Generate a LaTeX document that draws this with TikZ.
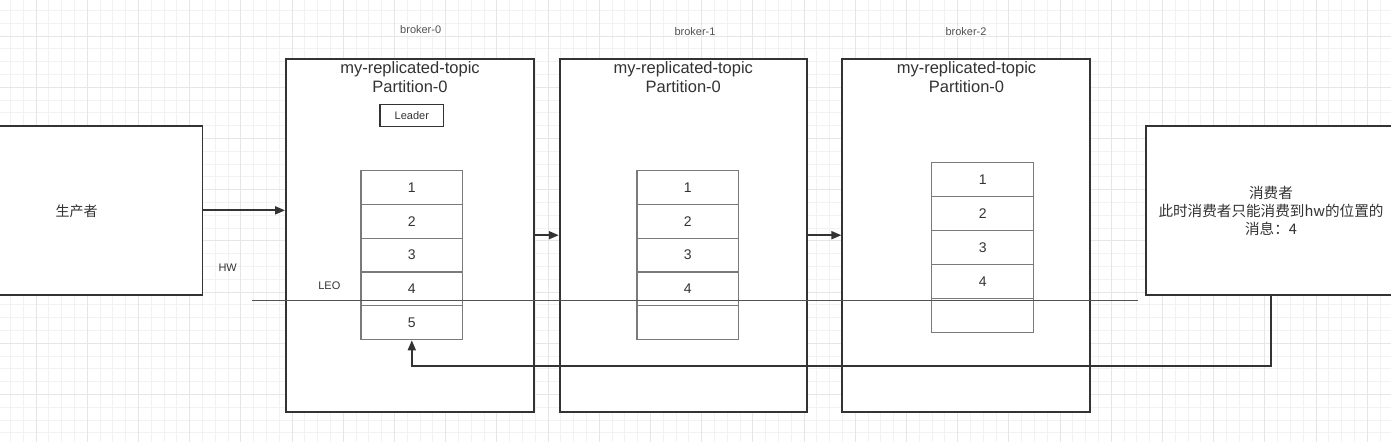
\documentclass[tikz,border=0pt]{standalone}
\usepackage{fontspec}
\setmainfont{Liberation Sans}
\newfontfamily\cjk{Noto Sans CJK SC}
\usetikzlibrary{arrows.meta}
\definecolor{ink}{HTML}{333333}
\definecolor{txt}{HTML}{333333}
\definecolor{cellline}{HTML}{7A7A7A}
\definecolor{gminor}{HTML}{F2F2F2}
\definecolor{gmajor}{HTML}{E6E6E6}
\tikzset{
  gridminor/.style={draw=gminor, line width=0.8pt},
  gridmajor/.style={draw=gmajor, line width=0.9pt},
  bigbox/.style={draw=ink, line width=1.9pt, fill=white, rectangle, inner sep=0pt},
  cell/.style={draw=cellline, line width=1.1pt, fill=white, rectangle, inner sep=0pt,
    minimum width=101.7pt, minimum height=33.9pt, text=txt, font=\fontsize{14}{16}\selectfont},
  leaderbox/.style={draw=ink, line width=1.6pt, rectangle, inner sep=0pt,
    minimum width=63.7pt, minimum height=22pt, text=txt, font=\fontsize{11}{13}\selectfont},
  titletext/.style={text=txt, align=center, inner sep=0pt, font=\fontsize{16.5}{19}\selectfont},
  smalltext/.style={text=txt, inner sep=0pt, font=\fontsize{11}{13}\selectfont},
  brokertext/.style={text=txt!85, inner sep=0pt, font=\fontsize{11}{13}\selectfont},
  conn/.style={draw=ink, line width=1.8pt, -{Triangle[length=10pt,width=8pt]}},
  hwline/.style={draw=ink!85, line width=1.3pt}
}
\begin{document}
\begin{tikzpicture}[x=1pt,y=-1pt]
\useasboundingbox (0,0) rectangle (1391,442);
\fill[white] (0,0) rectangle (1391,442);
% background grid
\foreach \i in {0,...,110} {
  \draw[gridminor] ({-15.2+12.8*\i},0) -- ++(0,442);
}
\foreach \j in {0,...,36} {
  \draw[gridminor] (0,{-15.2+12.8*\j}) -- ++(1391,0);
}
\foreach \i in {0,...,28} {
  \draw[gridmajor] ({-15.2+51.2*\i},0) -- ++(0,442);
}
\foreach \j in {0,...,9} {
  \draw[gridmajor] (0,{-15.2+51.2*\j}) -- ++(1391,0);
}

% producer and consumer
\node[bigbox, minimum width=204.5pt, minimum height=169.3pt] (prod) at (100.25,210.35) {};
\node[text=txt, font=\cjk\fontsize{14}{16}\selectfont] (prodt) at (76.7,211) {生产者};
\node[bigbox, minimum width=250pt, minimum height=169.3pt] (cons) at (1271,210.35) {};
\node[text=txt, align=center, inner sep=0pt, font=\cjk\fontsize{14.6}{18}\selectfont] (const) at (1271,211.3) {消费者\\此时消费者只能消费到hw的位置的\\消息：4};

% brokers
\node[bigbox, minimum width=248pt, minimum height=353pt] (b0) at (410,235.2) {};
\node[bigbox, minimum width=247.6pt, minimum height=353pt] (b1) at (683.5,235.2) {};
\node[bigbox, minimum width=247.7pt, minimum height=353pt] (b2) at (966.2,235.2) {};

\node[brokertext] (l0) at (420.7,29.5) {broker-0};
\node[brokertext] (l1) at (695,31.5) {broker-1};
\node[brokertext] (l2) at (966,31.5) {broker-2};

\node[titletext] (t0) at (410,77.5) {my-replicated-topic\\Partition-0};
\node[titletext] (t1) at (683.3,77.5) {my-replicated-topic\\Partition-0};
\node[titletext] (t2) at (966.5,77.5) {my-replicated-topic\\Partition-0};

\node[leaderbox] (lead) at (411.8,115.3) {Leader};

% log stacks
\foreach \k/\t in {1/1,2/2,3/3,4/4,5/5}
  \node[cell] (a\k) at (411.8,{170.3+33.9*(\k-0.5)}) {\t};
\foreach \k/\t in {1/1,2/2,3/3,4/4,5/}
  \node[cell] (m\k) at (687.8,{170.3+33.9*(\k-0.5)}) {\t};
\foreach \k/\t in {1/1,2/2,3/3,4/4,5/}
  \node[cell, minimum width=102pt] (n\k) at (982.7,{162.7+33.9*(\k-0.5)}) {\t};

% HW line and labels
\coordinate (hwL) at (251.7,300.5);
\coordinate (hwR) at (1137.7,300.5);
\draw[hwline] (hwL) -- (hwR);
\node[smalltext] (hw) at (227.7,268) {HW};
\node[smalltext] (leo) at (329.3,286) {LEO};

% connectors
\draw[conn] (prod.east) -- (prod.east -| b0.west);
\draw[conn] (b0.east) -- (b1.west);
\draw[conn] (b1.east) -- (b2.west);
\draw[conn] (cons.south) -- ++(0,70) -| (a5.south);
\end{tikzpicture}
\end{document}
